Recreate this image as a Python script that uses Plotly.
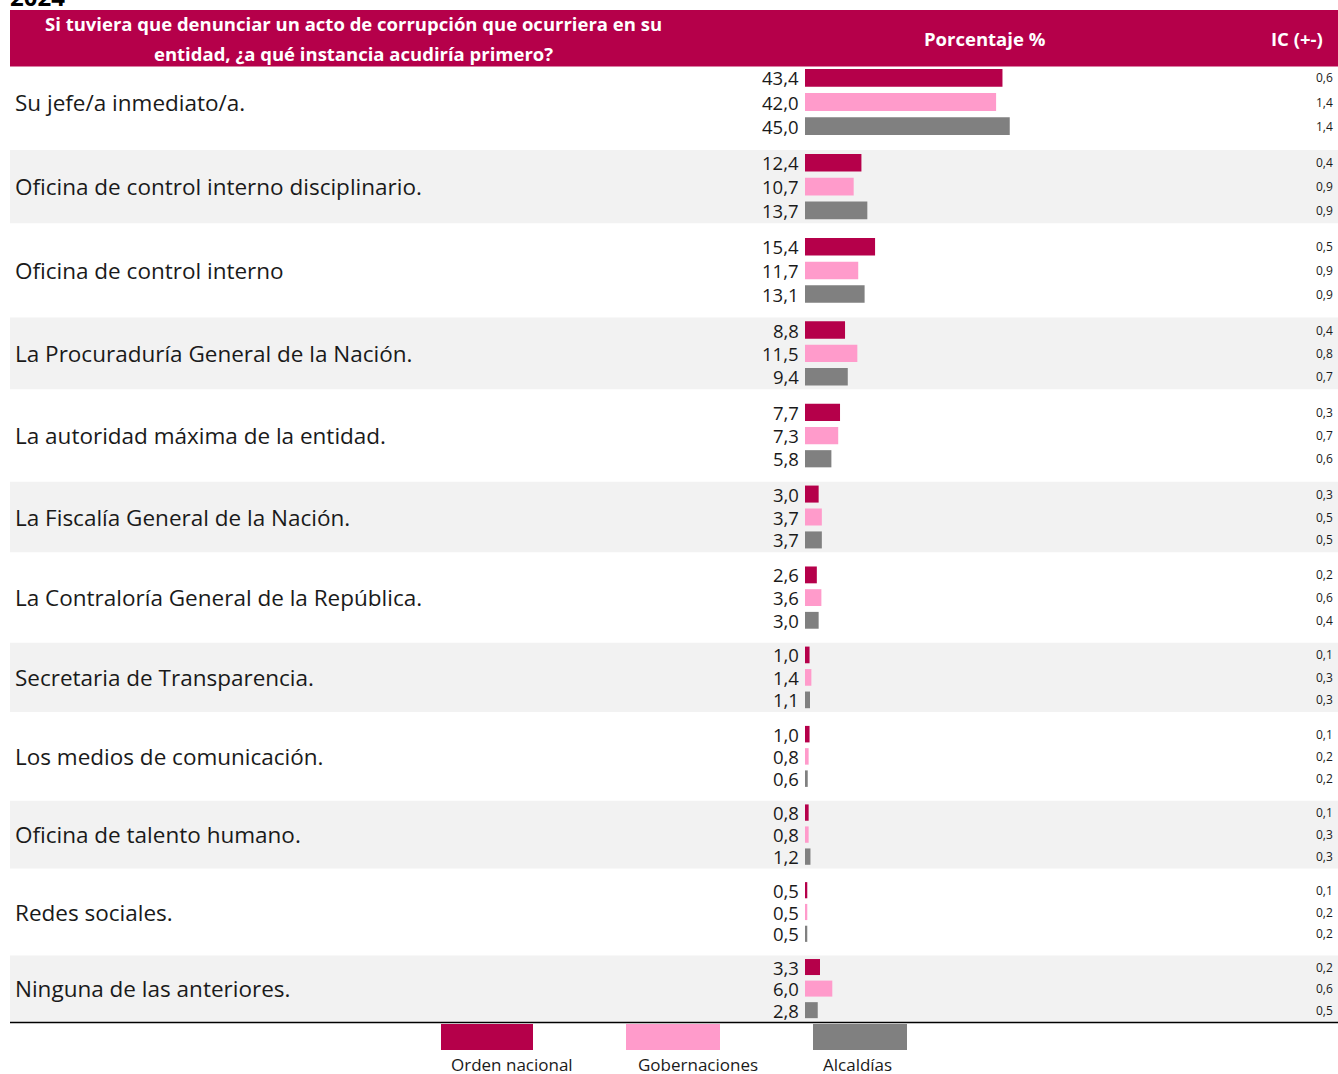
import plotly.graph_objects as go

categories = [
    "Su jefe/a inmediato/a.",
    "Oficina de control interno disciplinario.",
    "Oficina de control interno",
    "La Procuraduría General de la Nación.",
    "La autoridad máxima de la entidad.",
    "La Fiscalía General de la Nación.",
    "La Contraloría General de la República.",
    "Secretaria de Transparencia.",
    "Los medios de comunicación.",
    "Oficina de talento humano.",
    "Redes sociales.",
    "Ninguna de las anteriores.",
]
series_names = ["Orden nacional", "Gobernaciones", "Alcaldías"]
orden_nacional = [43.4, 12.4, 15.4, 8.8, 7.7, 3.0, 2.6, 1.0, 1.0, 0.8, 0.5, 3.3]
gobernaciones = [42.0, 10.7, 11.7, 11.5, 7.3, 3.7, 3.6, 1.4, 0.8, 0.8, 0.5, 6.0]
alcaldias = [45.0, 13.7, 13.1, 9.4, 5.8, 3.7, 3.0, 1.1, 0.6, 1.2, 0.5, 2.8]
ic_orden = [0.6, 0.4, 0.5, 0.4, 0.3, 0.3, 0.2, 0.1, 0.1, 0.1, 0.1, 0.2]
ic_gob = [1.4, 0.9, 0.9, 0.8, 0.7, 0.5, 0.6, 0.3, 0.2, 0.3, 0.2, 0.6]
ic_alc = [1.4, 0.9, 0.9, 0.7, 0.6, 0.5, 0.4, 0.3, 0.2, 0.3, 0.2, 0.5]
colors = ["#B5004A", "#FF9BCB", "#808080"]

W, H = 1338, 1074


# row layout (pixel units on a reversed y axis); rows get slightly tighter downwards
def row_center(i):
    return 102 + 85 * i - 0.4 * i * i


def row_step(i):
    return 85 - 0.8 * i


OFFSET_FRAC = [-0.283, 0.0, 0.283]
BAR_FRAC = 0.21
BAND_FRAC = 0.435


def fmt(v):
    return f"{v:.1f}".replace(".", ",")


def py(px):
    return 1 - px / H


fig = go.Figure()
series = [orden_nacional, gobernaciones, alcaldias]
ics = [ic_orden, ic_gob, ic_alc]
n = len(categories)

shapes = []
for i in range(n):
    if i % 2 == 1:
        c, s = row_center(i), row_step(i)
        shapes.append(dict(type="rect", xref="paper", yref="y", x0=10 / W, x1=1,
                           y0=c - BAND_FRAC * s, y1=c + BAND_FRAC * s, fillcolor="#F2F2F2",
                           line=dict(width=0), layer="below"))


def bar_y(i, j):
    return row_center(i) + OFFSET_FRAC[j] * row_step(i)


for j, (name, vals) in enumerate(zip(series_names, series)):
    fig.add_trace(go.Bar(
        x=vals, y=[bar_y(i, j) for i in range(n)], orientation="h",
        width=[BAR_FRAC * row_step(i) for i in range(n)],
        marker=dict(color=colors[j], line=dict(width=0)),
        name=name, showlegend=False, hoverinfo="x+name"))

annotations = []
for i, cat in enumerate(categories):
    annotations.append(dict(xref="paper", yref="y", x=13 / W, y=row_center(i), text=cat,
                            xanchor="left", yanchor="middle", showarrow=False,
                            font=dict(size=22.5, color="#1a1a1a", family="Open Sans")))
    for j in range(3):
        annotations.append(dict(xref="x", yref="y", x=0, y=bar_y(i, j),
                                text=fmt(series[j][i]), xanchor="right", yanchor="middle",
                                xshift=-4, showarrow=False,
                                font=dict(size=18.5, color="#1a1a1a", family="Open Sans")))
        annotations.append(dict(xref="paper", yref="y", x=1335 / W, y=bar_y(i, j),
                                text=fmt(ics[j][i]), xanchor="right", yanchor="middle",
                                showarrow=False,
                                font=dict(size=12, color="#1a1a1a", family="Open Sans")))

# header
shapes.append(dict(type="rect", xref="paper", yref="paper", x0=10 / W, x1=1,
                   y0=py(66.5), y1=py(10), fillcolor="#B5004A", line=dict(width=0)))
header_lines = [
    "<b>Si tuviera que denunciar un acto de corrupción que ocurriera en su</b>",
    "<b>entidad, ¿a qué instancia acudiría primero?</b>",
]
for k, (txt, ypx) in enumerate(zip(header_lines, [24, 53])):
    annotations.append(dict(xref="paper", yref="paper", x=353 / W, y=py(ypx),
                            text=txt, xanchor="center", yanchor="middle", showarrow=False,
                            font=dict(size=18.5, color="white", family="Open Sans")))
annotations.append(dict(xref="paper", yref="paper", x=985 / W, y=py(39),
                        text="<b>Porcentaje %</b>", xanchor="center", yanchor="middle",
                        showarrow=False, font=dict(size=18.5, color="white", family="Open Sans")))
annotations.append(dict(xref="paper", yref="paper", x=1297 / W, y=py(39),
                        text="<b>IC (+-)</b>", xanchor="center", yanchor="middle",
                        showarrow=False, font=dict(size=18.5, color="white", family="Open Sans")))
annotations.append(dict(xref="paper", yref="paper", x=8 / W, y=py(-3),
                        text="<b>2024</b>", xanchor="left", yanchor="middle",
                        showarrow=False, font=dict(size=24, color="black", family="Open Sans")))

# bottom line
shapes.append(dict(type="line", xref="paper", yref="paper", x0=10 / W, x1=1,
                   y0=py(1022.5), y1=py(1022.5), line=dict(color="black", width=1.5)))

# legend
leg_x = [(441, 533), (626, 720), (813, 907)]
leg_lbl_x = [512, 698, 857]
for j, name in enumerate(series_names):
    x0, x1 = leg_x[j]
    shapes.append(dict(type="rect", xref="paper", yref="paper", x0=x0 / W, x1=x1 / W,
                       y0=py(1050), y1=py(1024), fillcolor=colors[j], line=dict(width=0)))
    annotations.append(dict(xref="paper", yref="paper", x=leg_lbl_x[j] / W, y=py(1064),
                            text=name, xanchor="center", yanchor="middle", showarrow=False,
                            font=dict(size=17, color="#1a1a1a", family="Open Sans")))

x_range_max = (W - 805) / 4.55
fig.update_layout(
    width=W, height=H, margin=dict(l=0, r=0, t=0, b=0),
    paper_bgcolor="white", plot_bgcolor="rgba(0,0,0,0)",
    barmode="overlay",
    xaxis=dict(domain=[805 / W, 1], range=[0, x_range_max], visible=False, fixedrange=True),
    yaxis=dict(domain=[0, 1], range=[H, 0], visible=False, fixedrange=True),
    shapes=shapes, annotations=annotations, showlegend=False,
)
fig.write_html(
    "out.html",
    config={"displayModeBar": False},
    post_script="document.body.style.margin='0';document.body.style.overflow='hidden';",
)
